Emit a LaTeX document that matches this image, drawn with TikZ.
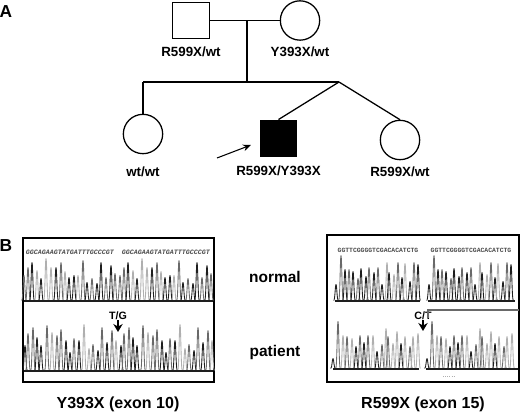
\documentclass[tikz,border=0pt]{standalone}
\usepackage{fontspec}
\setmainfont{Liberation Sans}
\setmonofont{Liberation Mono}
\usepackage{xcolor}
\usepackage{tikz}
\usetikzlibrary{arrows.meta,positioning}
\definecolor{SeqK}{RGB}{30, 30, 30}
\definecolor{SeqG}{RGB}{105, 105, 105}
\definecolor{SeqL}{RGB}{175, 175, 175}

% one chromatogram trace, x/height/colour per peak
\newcommand{\tracepeaks}[1]{%
  \foreach \px/\ph/\pc in #1
    \draw[peak, color=\pc] (\px-2.3,0) .. controls (\px-1,0) and (\px-0.8,-\ph) .. (\px,-\ph)
      .. controls (\px+0.8,-\ph) and (\px+1,0) .. (\px+2.3,0);
}
\newcommand{\normalY}{2/25/SeqG,6/33/SeqG,10/38/SeqK,15/30/SeqL,19/22/SeqK,24/42/SeqL,29/33/SeqL,34/33/SeqK,39/38/SeqG,43/29/SeqL,47/23/SeqK,52/25/SeqK,56/25/SeqL,61/40/SeqG,65/18/SeqK,70/22/SeqG,75/17/SeqK,79/38/SeqK,84/23/SeqG,89/35/SeqK,93/27/SeqG}
\newcommand{\patientY}{3/25/SeqK,6/37/SeqG,11/43/SeqG,15/33/SeqK,19/25/SeqK,25/45/SeqG,30/38/SeqL,35/35/SeqG,39/41/SeqG,44/30/SeqK,48/18/SeqK,52/32/SeqG,57/30/SeqK,62/46/SeqL,67/22/SeqL,71/26/SeqG,76/20/SeqK,80/43/SeqG,85/28/SeqK,90/40/SeqG,94/30/SeqL}
\newcommand{\normalR}{11/16/SeqK,16/45/SeqG,20/31/SeqK,24/31/SeqG,28/29/SeqK,33/22/SeqG,36/32/SeqK,41/24/SeqK,44/33/SeqG,49/28/SeqK,53/33/SeqG,57/16/SeqK,62/38/SeqL,64/28/SeqK,69/26/SeqL,73/38/SeqG,77/23/SeqK,80/37/SeqL,85/19/SeqK,89/38/SeqG,93/36/SeqK}
\newcommand{\patientR}{8/10/SeqK,13/47/SeqG,18/33/SeqL,22/32/SeqG,27/30/SeqL,31/22/SeqK,35/33/SeqG,39/26/SeqK,43/33/SeqG,48/33/SeqL,52/17/SeqK,57/24/SeqG,61/40/SeqL,63/32/SeqG,68/25/SeqL,72/37/SeqL,76/25/SeqK,80/32/SeqL,85/22/SeqG,88/32/SeqL,93/35/SeqL}

\begin{document}
\begin{tikzpicture}[x=0.75pt, y=-0.75pt]
  \tikzstyle{person} = [draw=black, fill=white, line width=0.95pt, inner sep=0pt]
  \tikzstyle{male} = [person, rectangle, minimum size=27.5pt]
  \tikzstyle{female} = [person, circle, minimum size=29.5pt]
  \tikzstyle{geno} = [font=\fontsize{10}{12}\bfseries\selectfont, inner sep=0pt, text height=7.2pt, text depth=0pt]
  \tikzstyle{title} = [font=\fontsize{11.6}{14}\bfseries\selectfont, inner sep=0pt]
  \tikzstyle{letter} = [font=\fontsize{13}{15}\bfseries\selectfont, inner sep=0pt]
  \tikzstyle{allele} = [font=\fontsize{8}{10}\bfseries\selectfont, inner sep=0pt]
  \tikzstyle{seq} = [font=\fontsize{5}{6}\ttfamily\bfseries\itshape\selectfont, inner sep=0pt, color=SeqK!80]
  \tikzstyle{panel} = [draw=black, fill=white, line width=1.2pt, inner sep=0pt]
  \tikzstyle{line} = [draw=black, line width=0.95pt]
  \tikzstyle{peak} = [line width=0.65pt, line join=round]
  \tikzstyle{base} = [draw=SeqK, line width=0.8pt]
  \useasboundingbox (0,0) rectangle (520,413);

  % pedigree
  \node [letter] (labelA) at (6,12) {A};
  \node [male] (father) at (191,20.5) {};
  \node [female] (mother) at (300,20.5) {};
  \node [female] (sister) at (143,134) {};
  \node [male, fill=black] (patient) at (278.5,138.5) {};
  \node [female] (twin) at (400,140) {};
  \coordinate (mating) at (247,20.5);
  \coordinate (sibs) at (247,82);
  \coordinate (sisterTop) at (143,82);
  \coordinate (twinFork) at (339,82);
  \coordinate (arrowStart) at (217,158);
  \coordinate (arrowEnd) at (251,145);

  \path [line] (father) -- (mother);
  \path [line] (mating) -- (sibs);
  \path [line] (sisterTop) -- (twinFork);
  \path [line] (sisterTop) -- (sister);
  \path [line] (twinFork) -- (patient.north);
  \path [line] (twinFork) -- (twin.north);
  \draw [line, line width=0.8pt, -{Stealth[length=6pt,width=5pt]}] (arrowStart) -- (arrowEnd);

  \node [geno, below=5.2pt of father] (fatherLabel) {R599X/wt};
  \node [geno, below=4.5pt of mother] (motherLabel) {Y393X/wt};
  \node [geno, below=9pt of sister] (sisterLabel) {wt/wt};
  \node [geno, below=6pt of patient] (patientLabel) {R599X/Y393X};
  \node [geno, below=4.5pt of twin] (twinLabel) {R599X/wt};

  % sequencing panels
  \node [letter] (labelB) at (6,246) {B};
  \node [panel, minimum width=143pt, minimum height=108pt] (panelY) at (118.5,310) {};
  \node [panel, minimum width=144pt, minimum height=110pt] (panelR) at (423,308.5) {};

  \foreach \off in {22,118} {
    \begin{scope}[shift={(\off,300.5)}]
      \tracepeaks{\normalY}
    \end{scope}
  }
  \foreach \off in {22,118} {
    \begin{scope}[shift={(\off,370.5)}]
      \tracepeaks{\patientY}
    \end{scope}
  }
  \draw [base] (24,301) -- (213,301);
  \draw [base] (24,371) -- (213,371);

  \foreach \off in {325,418} {
    \begin{scope}[shift={(\off,300.5)}]
      \tracepeaks{\normalR}
    \end{scope}
  }
  \foreach \off in {325,419} {
    \begin{scope}[shift={(\off,368.5)}]
      \tracepeaks{\patientR}
    \end{scope}
  }
  \draw [base] (335,301) -- (420,301);
  \draw [base] (428,301) -- (515,301);
  \draw [base] (333,369) -- (419,369);
  \draw [base] (426,369) -- (518,369);

  \node [seq] (seqY1) at (70,252) {GGCAGAAGTATGATTTGCCCGT};
  \node [seq] (seqY2) at (166,252) {GGCAGAAGTATGATTTGCCCGT};
  \node [seq, font=\fontsize{4.8}{6}\ttfamily\bfseries\selectfont] (seqR1) at (378,250.5) {GGTTCGGGGTCGACACATCTG};
  \node [seq, font=\fontsize{4.8}{6}\ttfamily\bfseries\selectfont] (seqR2) at (471,250.5) {GGTTCGGGGTCGACACATCTG};

  % mutation marks
  \node [allele] (alleleY) at (118,316) {T/G};
  \node [allele] (alleleR) at (423,316) {C/T};
  \coordinate (tipY) at (118,332);
  \coordinate (tipR) at (423,331);
  \draw [line, line width=1.4pt, -{Stealth[length=6pt,width=7pt]}] (alleleY) -- (tipY);
  \draw [line, line width=1.4pt, -{Stealth[length=6pt,width=7pt]}] (alleleR) -- (tipR);
  \coordinate (bracketFoot) at (428,318);
  \coordinate (bracketCorner) at (428,310);
  \coordinate (bracketEnd) at (519,310);
  \draw [draw=SeqG, line width=0.8pt] (bracketFoot) -- (bracketCorner) -- (bracketEnd);
  \coordinate (scaleL) at (443,376);
  \coordinate (scaleR) at (455,376);
  \draw [draw=SeqL, line width=0.6pt, densely dotted] (scaleL) -- (scaleR);

  \node [title] (normalLabel) at (275,277) {normal};
  \node [title] (patientRow) at (275,352) {patient};
  \node [title, font=\fontsize{12}{14}\bfseries\selectfont] (titleY) at (118,404) {Y393X (exon 10)};
  \node [title, font=\fontsize{12}{14}\bfseries\selectfont] (titleR) at (423,404) {R599X (exon 15)};
\end{tikzpicture}
\end{document}
